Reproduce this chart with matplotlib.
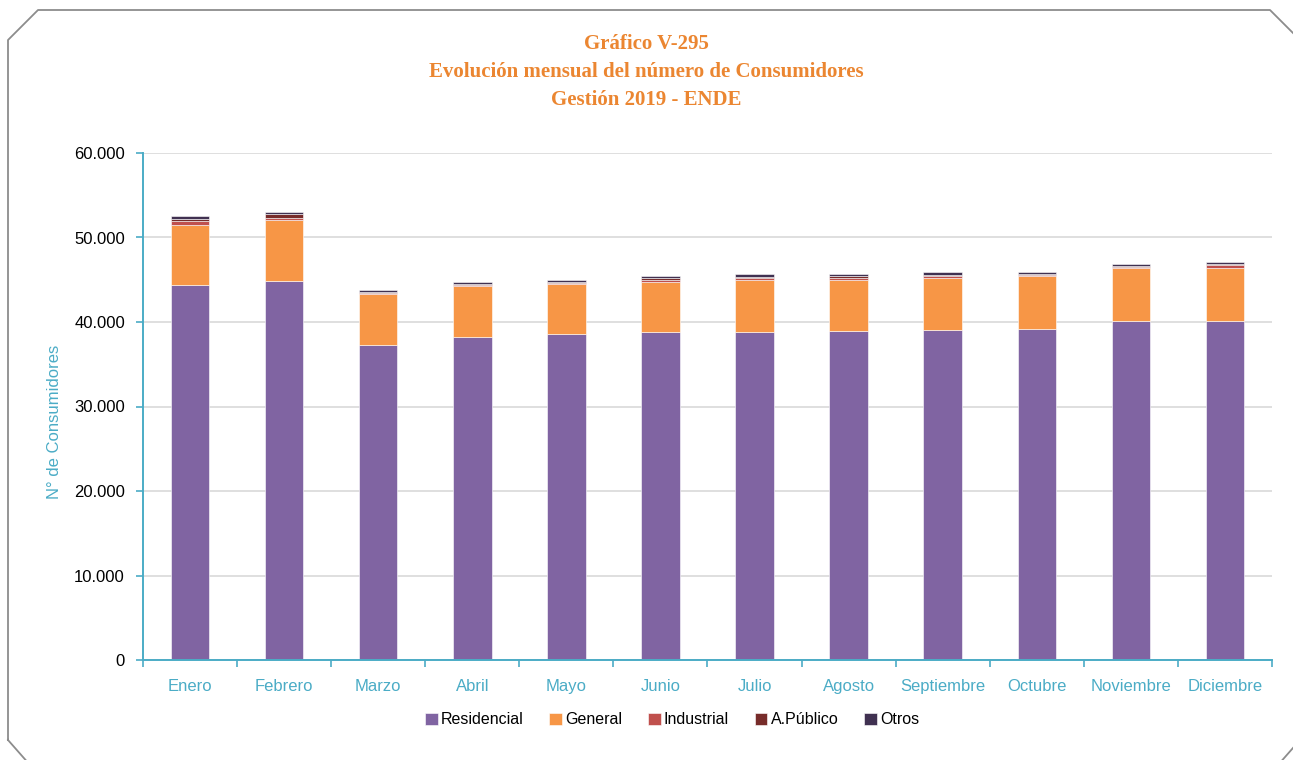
import numpy as np
import matplotlib.pyplot as plt
from matplotlib.lines import Line2D
from matplotlib.ticker import FuncFormatter, FixedLocator, NullFormatter
from matplotlib import font_manager

meses = ['Enero', 'Febrero', 'Marzo', 'Abril', 'Mayo', 'Junio', 'Julio',
         'Agosto', 'Septiembre', 'Octubre', 'Noviembre', 'Diciembre']
residencial = [44380, 44890, 37280, 38220, 38580, 38820, 38820, 38970, 39010, 39210, 40160, 40160]
general     = [7150, 7180, 6000, 6000, 5900, 5870, 6100, 6000, 6140, 6240, 6200, 6180]
industrial  = [460, 240, 150, 160, 160, 250, 230, 250, 240, 120, 120, 360]
apublico    = [200, 470, 150, 140, 150, 220, 230, 230, 230, 160, 150, 180]
otros       = [330, 200, 200, 210, 180, 280, 260, 230, 260, 150, 200, 220]
series = ['Residencial', 'General', 'Industrial', 'A.Público', 'Otros']
colores = ['#8064A2', '#F79646', '#C0504D', '#772C2A', '#403151']

names = {f.name for f in font_manager.fontManager.ttflist}
narrow = 'Liberation Sans Narrow' if 'Liberation Sans Narrow' in names else 'Liberation Sans'
plt.rcParams['font.family'] = [narrow, 'DejaVu Sans']

teal = '#4BACC6'
fig = plt.figure(figsize=(12.93, 7.6), dpi=100)
ax = fig.add_axes([143/1293, 100/760, (1272-143)/1293, 507/760])

x = np.arange(len(meses))
base = np.zeros(len(meses))
for nombre, vals, c in zip(series, [residencial, general, industrial, apublico, otros], colores):
    ax.bar(x, vals, 0.41, bottom=base, color=c, label=nombre, edgecolor='white', linewidth=0.4)
    base += np.array(vals)

ax.set_xlim(-0.5, len(meses) - 0.5)
ax.set_ylim(0, 60000)
ax.set_yticks(np.arange(0, 60001, 10000))
ax.yaxis.set_major_formatter(FuncFormatter(lambda v, p: f'{int(v):,}'.replace(',', '.')))
ax.grid(axis='y', color='#D9D9D9', linewidth=1.2)
ax.set_axisbelow(True)

ax.set_xticks(x)
ax.set_xticklabels(meses, color=teal, fontsize=12)
ax.tick_params(axis='x', which='major', length=0, pad=14)
ax.xaxis.set_minor_locator(FixedLocator(np.arange(-0.5, len(meses), 1)))
ax.xaxis.set_minor_formatter(NullFormatter())
ax.tick_params(axis='x', which='minor', length=5, color=teal, width=1.2)
ax.tick_params(axis='y', length=5, color=teal, width=1.2, labelsize=12, pad=8)

for s in ['top', 'right']:
    ax.spines[s].set_visible(False)
for s in ['left', 'bottom']:
    ax.spines[s].set_color(teal)
    ax.spines[s].set_linewidth(1.4)

ax.set_ylabel('N° de Consumidores', color=teal, fontsize=12)
ax.yaxis.set_label_coords(-0.072, 0.47)

fig.text(0.5, 1 - 72/760, 'Gráfico V-295\nEvolución mensual del número de Consumidores\nGestión 2019 - ENDE',
         ha='center', va='center', color='#EB8631', fontsize=15, fontweight='bold',
         family='Liberation Serif', linespacing=1.52)

ax.legend(loc='center', bbox_to_anchor=(672/1293, 1 - 720/760), bbox_transform=fig.transFigure,
          ncol=5, frameon=False, fontsize=11.5, handlelength=0.8, handleheight=0.8,
          handletextpad=0.2, columnspacing=1.6)

# marco con esquinas recortadas
px = [8, 8, 38, 1270, 1300, 1300, 1278, 30, 8]
py = [740, 40, 10, 10, 40, 740, 765, 765, 740]
fig.add_artist(Line2D([v/1293 for v in px], [1 - v/760 for v in py],
                      transform=fig.transFigure, color='#8C8C8C', linewidth=1.3))

fig.savefig('out.png', dpi=100)
